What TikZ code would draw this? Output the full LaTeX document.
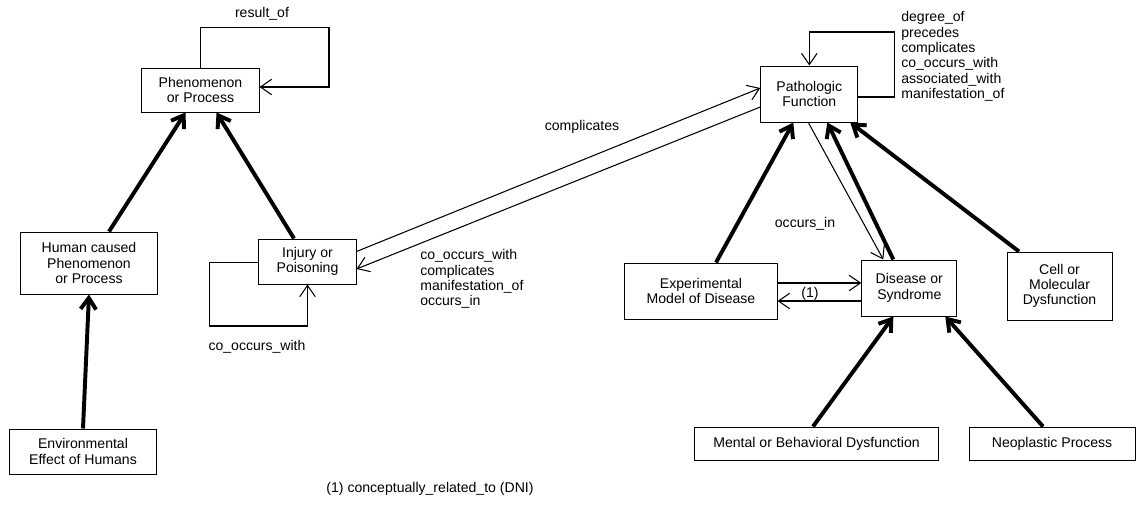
\documentclass[tikz,border=0pt]{standalone}
\usepackage{fontspec}
\setmainfont{Liberation Sans}
\usepackage{tikz}
\usetikzlibrary{arrows.meta,calc,positioning}

\begin{document}
\begin{tikzpicture}[x=0.025cm, y=-0.025cm, font=\fontsize{10}{10.9}\selectfont]
		\tikzstyle{concept}=[rectangle, draw=black, line width=0.7pt, align=center, inner sep=1pt]
		\tikzstyle{rel}=[->, line width=0.75pt, color=black]
		\tikzstyle{isa}=[->, line width=2.8pt, color=black]
		\tikzset{>={Straight Barb[length=8pt,width=11pt]}}
		\useasboundingbox (0,0) rectangle (1136,507);

		% left part
		\node[concept, minimum width=2.925cm, minimum height=1.1cm] (phen) at (200.5,90) {Phenomenon\\or Process};
		\node[concept, minimum width=3.4cm, minimum height=1.55cm] (human) at (89,263) {Human caused\\Phenomenon\\or Process};
		\node[concept, minimum width=3.65cm, minimum height=1.125cm] (env) at (83,451.5) {Environmental\\Effect of Humans};
		\node[concept, minimum width=2.425cm, minimum height=1.125cm] (injury) at (307.5,261.5) {Injury or\\Poisoning};

		\path ($(human.north)+(20,0)$) edge[isa] ($(phen.south)+(-15,0)$);
		\path ($(injury.north)+(-13.5,0)$) edge[isa] ($(phen.south)+(16,0)$);
		\path (env.north) edge[isa] (human.south);

		\draw[rel] (phen.north) -- ++(0,-40) -- ++(128.5,0) |- ($(phen.east)+(0,-3)$);
		\node (resultof) at (262,14) {result\_of};

		\draw[rel] ($(injury.west)+(0,1)$) -- ++(-49,0) -- ++(0,63.5) -| (injury.south);
		\node (injcooccurs) at (257,347) {co\_occurs\_with};

		% right part
		\node[concept, minimum width=2.425cm, minimum height=1.4cm] (patho) at (809.3,94) {Pathologic\\Function};
		\node[concept, minimum width=3.8cm, minimum height=1.4cm] (expmodel) at (701,291) {Experimental\\Model of Disease};
		\node[concept, minimum width=2.375cm, minimum height=1.4cm] (disease) at (909.3,288) {Disease or\\Syndrome};
		\node[concept, minimum width=2.625cm, minimum height=1.7cm] (cell) at (1059.5,286) {Cell or\\Molecular\\Dysfunction};
		\node[concept, minimum width=6.075cm, minimum height=0.825cm] (mental) at (816.5,443.5) {Mental or Behavioral Dysfunction};
		\node[concept, minimum width=4.15cm, minimum height=0.825cm, right=0.75cm of mental] (neo) {Neoplastic Process};

		\draw[rel] ($(patho.east)+(0,3)$) -- ++(36,0) -- ++(0,-65) -| (patho.north);
		\node[anchor=west, align=left, inner sep=0pt] (pathorels) at (901,56.5) {degree\_of\\precedes\\complicates\\co\_occurs\_with\\associated\_with\\manifestation\_of};

		\path ($(expmodel.north)+(15,0)$) edge[isa] ($(patho.south)+(-16,0)$);
		\path ($(disease.north)+(-16,0)$) edge[isa] ($(patho.south)+(18,0)$);
		\path ($(cell.north)+(-40.5,0)$) edge[isa] ($(patho.south)+(41,0)$);
		\path ($(mental.north)+(-3.5,0)$) edge[isa] ($(disease.south)+(-16,0)$);
		\path ($(neo.north)+(-9,0)$) edge[isa] ($(disease.south)+(36,0)$);

		\path ($(patho.south)+(-1,0)$) edge[rel] ($(disease.north)+(-26,0)$);
		\node (occursin) at (805,224) {occurs\_in};

		\path ($(expmodel.east)+(0,-8)$) edge[rel] ($(disease.west)+(0,-5)$);
		\path ($(disease.west)+(0,13)$) edge[rel] ($(expmodel.east)+(0,10)$);
		\node (note1) at (810,294) {(1)};

		% between the two parts
		\path ($(injury.east)+(0,-10)$) edge[rel] ($(patho.west)+(0,-6)$);
		\node (complic) at (582,127) {complicates};
		\path ($(patho.west)+(0,13)$) edge[rel] ($(injury.east)+(0,7.5)$);
		\node[anchor=west, align=left, inner sep=0pt] (injrels) at (420,279) {co\_occurs\_with\\complicates\\manifestation\_of\\occurs\_in};

		\node (footnote) at (430,489) {(1) conceptually\_related\_to (DNI)};
	\end{tikzpicture}
\end{document}
